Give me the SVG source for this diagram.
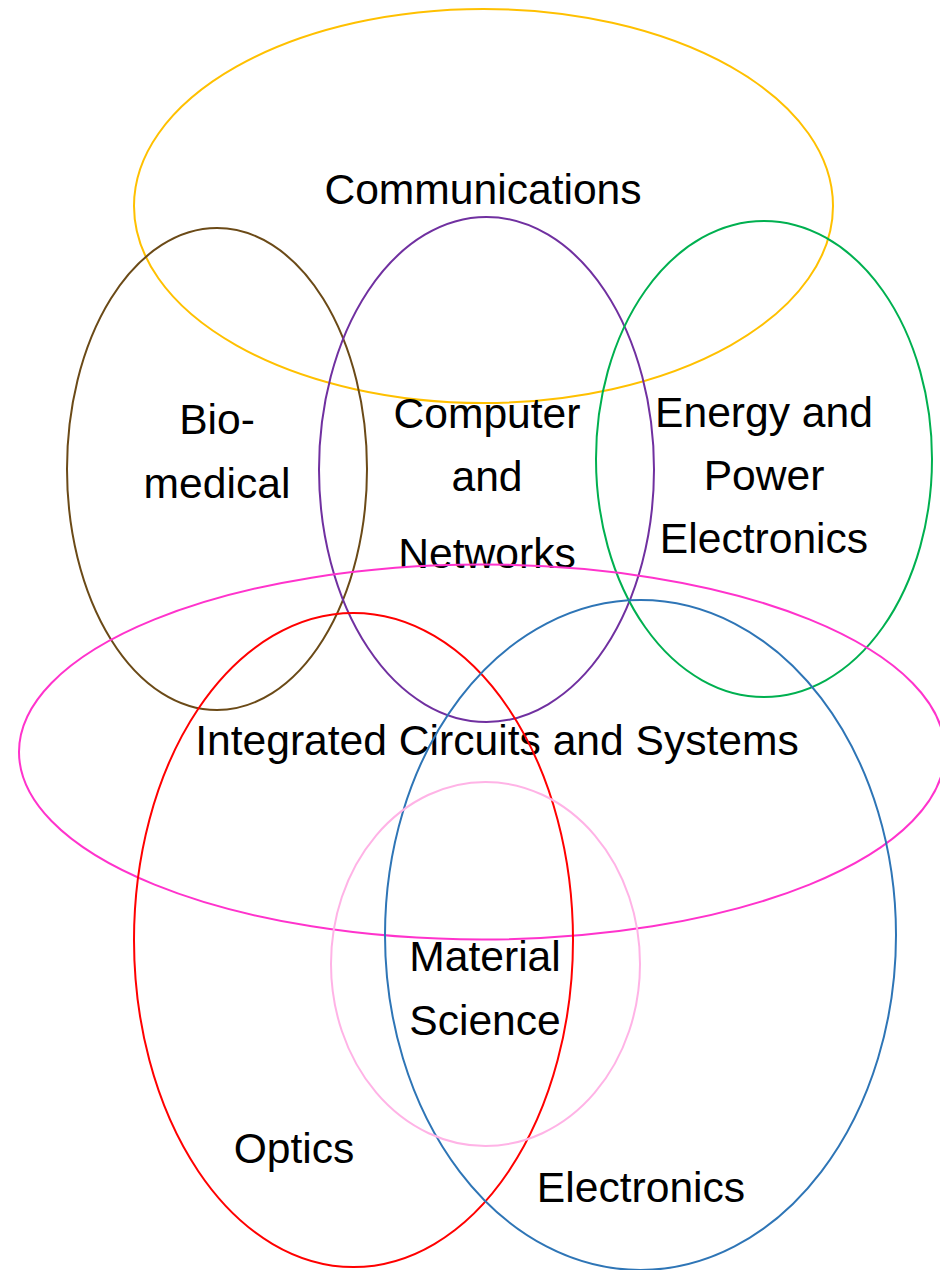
<svg xmlns="http://www.w3.org/2000/svg" width="940" height="1270" viewBox="0 0 940 1270">
  <style>
    .ring { fill: none; stroke-width: 2; }
    .label { font-family: "Liberation Sans", Arial, sans-serif; font-size: 42.6px; fill: #000; text-anchor: middle; }
  </style>
  <rect width="940" height="1270" fill="#fff"/>

  <g id="communications">
    <text class="label" x="483" y="204">Communications</text>
    <ellipse class="ring" cx="483.5" cy="206" rx="349.5" ry="197" stroke="#FFC000"/>
  </g>

  <g id="biomedical">
    <text class="label" x="217" y="434">Bio-</text>
    <text class="label" x="217" y="498">medical</text>
    <ellipse class="ring" cx="217" cy="469" rx="150" ry="241" stroke="#6B4A17"/>
  </g>

  <g id="computer-networks">
    <text class="label" x="487" y="428">Computer</text>
    <text class="label" x="487" y="491">and</text>
    <text class="label" x="487" y="568">Networks</text>
    <ellipse class="ring" cx="486.5" cy="469.5" rx="167.5" ry="252.5" stroke="#7030A0"/>
  </g>

  <g id="energy-power">
    <text class="label" x="764" y="427">Energy and</text>
    <text class="label" x="764" y="490">Power</text>
    <text class="label" x="764" y="553">Electronics</text>
    <ellipse class="ring" cx="764" cy="459" rx="168" ry="238" stroke="#00B050"/>
  </g>

  <g id="integrated-circuits">
    <text class="label" x="497" y="755">Integrated Circuits and Systems</text>
    <ellipse class="ring" cx="482" cy="752" rx="463" ry="187.5" stroke="#FF33CC"/>
  </g>

  <g id="optics">
    <text class="label" x="294" y="1163">Optics</text>
    <ellipse class="ring" cx="353.5" cy="940" rx="219.5" ry="327" stroke="#FF0000"/>
  </g>

  <g id="electronics">
    <text class="label" x="641" y="1202">Electronics</text>
    <ellipse class="ring" cx="640.5" cy="935" rx="255.5" ry="335" stroke="#2E75B6"/>
  </g>

  <g id="material-science">
    <text class="label" x="485" y="971">Material</text>
    <text class="label" x="485" y="1035">Science</text>
    <ellipse class="ring" cx="485.5" cy="964" rx="154.5" ry="182" stroke="#FFB3E6"/>
  </g>

  <g id="connectors"/>
</svg>
